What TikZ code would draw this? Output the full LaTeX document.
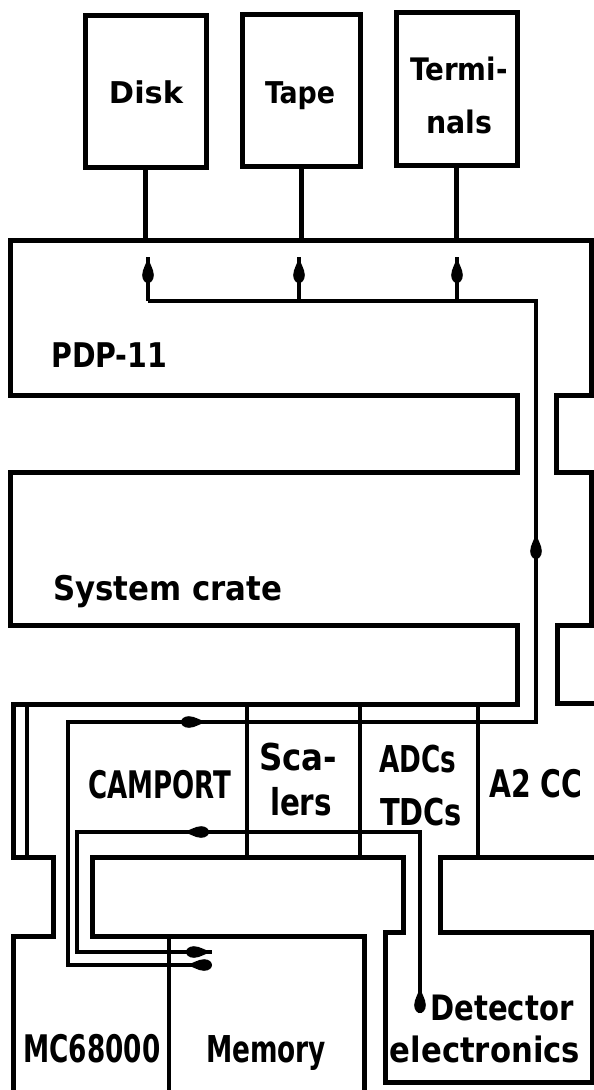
\documentclass[tikz,border=0pt]{standalone}
\usepackage{fontspec}
\setmainfont{DejaVu Sans Condensed}
\usetikzlibrary{arrows.meta,decorations.markings}
\newcommand{\fitw}[2]{\resizebox{#1}{\height}{#2}}
\newcommand{\teardrop}{\fill (0,0) .. controls (-6,1) and (-12,5.8) .. (-18,5.8)
      .. controls (-23,5.8) and (-26,3) .. (-26,0)
      .. controls (-26,-3) and (-23,-5.8) .. (-18,-5.8)
      .. controls (-12,-5.8) and (-6,-1) .. (0,0) -- cycle;}
\tikzset{
  wall/.style={line width=5pt, line join=miter, line cap=butt},
  devbox/.style={draw, line width=5pt, inner sep=0pt, minimum width=#1, minimum height=152pt},
  cable/.style={line width=3.3pt, line join=miter},
  divider/.style={line width=3.3pt},
  lbl/.style={inner sep=0pt, anchor=base, font=\fontsize{#1}{#1}\selectfont\bfseries},
  markarrow/.style={postaction={decorate, decoration={markings, mark=at position #1 with {\teardrop}}}},
}
\begin{document}
\begin{tikzpicture}[x=1pt,y=-1pt]
\useasboundingbox (0,0) rectangle (594,1090);
\fill[white] (0,0) rectangle (594,1090);
\clip (0,0) rectangle (594,1090);

% peripheral devices
\node[devbox=121pt] (disk) at (145.5,91) {};
\node[devbox=118pt] (tape) at (301,90.5) {};
\node[devbox=121pt, minimum height=153pt] (term) at (456.5,88.5) {};
\coordinate (pdptop) at (0,240);
\draw[wall] (disk.south) -- (disk.south |- pdptop);
\draw[wall] (tape.south) -- (tape.south |- pdptop);
\draw[wall] (term.south) -- (term.south |- pdptop);

% PDP-11, system crate, CAMAC crate outline
\draw[wall] (600,703) -- (557,703) -- (557,625) -- (591,625) -- (591,472) -- (556,472)
  -- (556,395) -- (591,395) -- (591,240) -- (10,240) -- (10,395) -- (517,395)
  -- (517,472) -- (10,472) -- (10,625) -- (517,625) -- (517,704) -- (13,704)
  -- (13,857) -- (53,857) -- (53,936) -- (13,936) -- (13,1100);
\draw[wall] (364,1100) -- (364,936) -- (92,936) -- (92,857) -- (403,857) -- (403,932)
  -- (385,932) -- (385,1082) -- (592,1082) -- (592,932) -- (440,932) -- (440,857) -- (600,857);
\draw[line width=4.3pt] (27,704) -- (27,857);

% module dividers
\draw[divider] (247,704) -- (247,857);
\draw[divider] (360,704) -- (360,857);
\draw[divider] (478,704) -- (478,857);
\draw[divider] (169,936) -- (169,1100);

% cables
\coordinate (memA) at (210,965);
\coordinate (cA1) at (68,965);
\coordinate (cA2) at (68,722);
\coordinate (cA3) at (536,722);
\coordinate (cA4) at (536,301);
\coordinate (bus1) at (148,301);
\draw[cable, markarrow=24pt, markarrow=524pt, markarrow=1042pt]
  (memA) -- (cA1) -- (cA2) -- (cA3) -- (cA4) -- (bus1);
\coordinate (t1) at (148,257);
\coordinate (b2) at (299,301);
\coordinate (t2) at (299,257);
\coordinate (b3) at (457,301);
\coordinate (t3) at (457,257);
\draw[cable, markarrow=1] (bus1) -- (t1);
\draw[cable, markarrow=1] (b2) -- (t2);
\draw[cable, markarrow=1] (b3) -- (t3);

\coordinate (det0) at (420,1013);
\coordinate (cB1) at (420,832);
\coordinate (cB2) at (77,832);
\coordinate (cB3) at (77,952);
\coordinate (memB) at (212,952);
\draw[cable, markarrow=26pt, markarrow=418pt, markarrow=1]
  (det0) -- (cB1) -- (cB2) -- (cB3) -- (memB);

% labels
\node[lbl=30] (tdisk) at (146,103) {\fitw{74pt}{Disk}};
\node[lbl=30] (ttape) at (300,103) {\fitw{70pt}{Tape}};
\node[lbl=31] (tterm1) at (459,80) {\fitw{97pt}{Termi-}};
\node[lbl=31] (tterm2) at (459,133) {\fitw{66pt}{nals}};
\node[lbl=34, anchor=base west] (tpdp) at (51,367) {\fitw{116pt}{PDP-11}};
\node[lbl=34, anchor=base west] (tsys) at (53,600) {\fitw{229pt}{System crate}};
\node[lbl=38] (tcamport) at (160,798) {\fitw{143pt}{CAMPORT}};
\node[lbl=37] (tsca1) at (298,770) {\fitw{78pt}{Sca-}};
\node[lbl=37] (tsca2) at (301,815) {\fitw{62pt}{lers}};
\node[lbl=37] (tadc) at (418,772) {\fitw{77pt}{ADCs}};
\node[lbl=37] (ttdc) at (421,825) {\fitw{82pt}{TDCs}};
\node[lbl=38] (ta2) at (536,797) {\fitw{93pt}{A2 CC}};
\node[lbl=38] (tmc) at (92,1062) {\fitw{137pt}{MC68000}};
\node[lbl=37] (tmem) at (266,1062) {\fitw{120pt}{Memory}};
\node[lbl=35] (tdet1) at (502,1020) {\fitw{143pt}{Detector}};
\node[lbl=35] (tdet2) at (485,1062) {\fitw{190pt}{electronics}};
\end{tikzpicture}
\end{document}
